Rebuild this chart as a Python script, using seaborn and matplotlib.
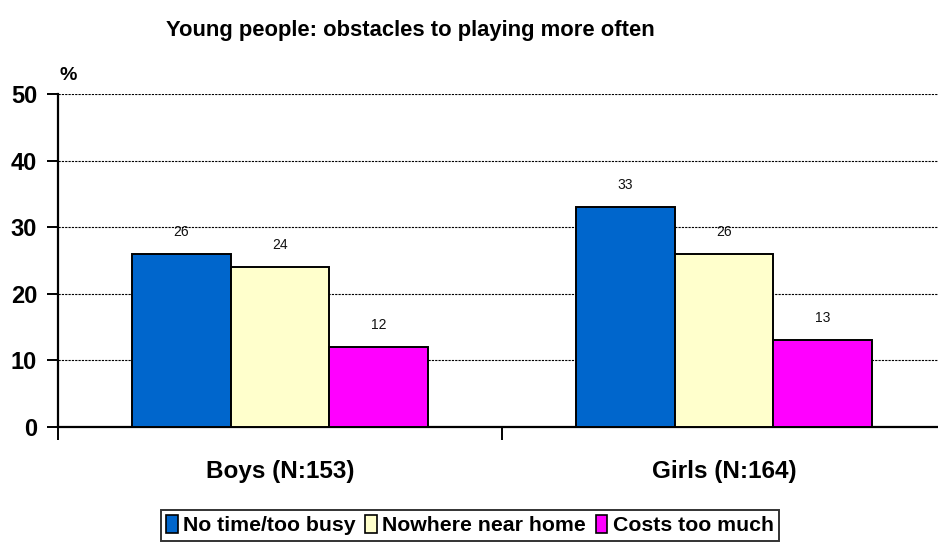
import matplotlib
matplotlib.use("Agg")
import matplotlib.pyplot as plt
from matplotlib.patches import Patch
import seaborn as sns
import pandas as pd

# Survey results: share of young people citing each obstacle
groups = ["Boys (N:153)", "Girls (N:164)"]
obstacles = ["No time/too busy", "Nowhere near home", "Costs too much"]
boys_pct = [26, 24, 12]
girls_pct = [33, 26, 13]
colors = ["#0066CC", "#FFFFCC", "#FF00FF"]

rows = []
for g, vals in zip(groups, [boys_pct, girls_pct]):
    for o, v in zip(obstacles, vals):
        rows.append({"group": g, "obstacle": o, "pct": v})
df = pd.DataFrame(rows)

sns.set_theme(style="white")
plt.rcParams["font.family"] = ["Liberation Sans", "DejaVu Sans"]
plt.rcParams["text.color"] = "black"
plt.rcParams["xtick.color"] = "black"
plt.rcParams["ytick.color"] = "black"
plt.rcParams["xtick.labelcolor"] = "black"
plt.rcParams["ytick.labelcolor"] = "black"

fig = plt.figure(figsize=(9.38, 5.42), dpi=100)
ax = fig.add_axes([0.0618, 0.2122, 0.9467, 0.6144])

sns.barplot(data=df, x="group", y="pct", hue="obstacle", order=groups,
            hue_order=obstacles, palette=colors, width=0.665,
            edgecolor="black", linewidth=1.4, saturation=1, ax=ax,
            legend=False, errorbar=None, zorder=3)

for cont in ax.containers:
    ax.bar_label(cont, fmt="%d", padding=11, fontsize=10, color="#111111")

ax.set_ylim(0, 50)
ax.set_xlim(-0.5, 1.5)
ax.set_yticks([0, 10, 20, 30, 40, 50])
ax.yaxis.grid(True, linestyle=(0, (2, 1)), color="black", linewidth=0.8, zorder=0)
ax.xaxis.grid(False)

for s in ["top", "right"]:
    ax.spines[s].set_visible(False)
for s in ["left", "bottom"]:
    ax.spines[s].set_color("black")
    ax.spines[s].set_linewidth(1.6)

ax.tick_params(axis="y", which="major", direction="out", length=8, width=1.4,
               color="black", left=True, labelsize=17, pad=7)
for t in ax.get_yticklabels():
    t.set_fontweight("bold")

ax.set_xticks([0, 1])
ax.set_xticklabels(groups, fontsize=17.5, fontweight="bold")
ax.tick_params(axis="x", which="major", length=0, pad=24)
ax.set_xticks([-0.5, 0.5], minor=True)
ax.tick_params(axis="x", which="minor", direction="out", length=9, width=1.4,
               color="black", bottom=True)
ax.set_xlabel("")
ax.set_ylabel("")

fig.text(0.437, 0.944, "Young people: obstacles to playing more often",
         ha="center", va="center", fontsize=15.8, fontweight="bold")
fig.text(0.073, 0.86, "%", ha="center", va="center", fontsize=14, fontweight="bold")

handles = [Patch(facecolor=c, edgecolor="black", linewidth=1.2) for c in colors]
leg = fig.legend(handles, obstacles, loc="center", bbox_to_anchor=(0.501, 0.031),
                 ncol=3, frameon=True, fancybox=False, fontsize=15.3,
                 handlelength=0.55, handleheight=0.9, handletextpad=0.25,
                 columnspacing=0.45, borderpad=0.25, borderaxespad=0)
leg.get_frame().set_edgecolor("black")
leg.get_frame().set_linewidth(1.4)
for t in leg.get_texts():
    t.set_fontweight("bold")

fig.savefig("out.png", dpi=100)
